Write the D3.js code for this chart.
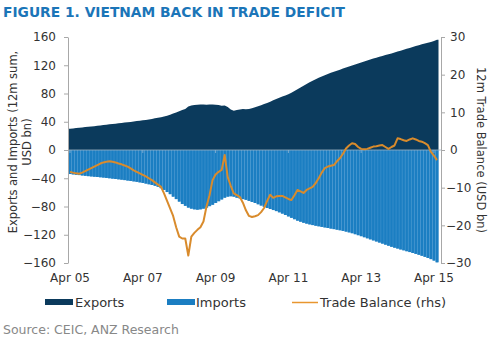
<!DOCTYPE html>
<html><head><meta charset="utf-8">
<script src="https://cdn.jsdelivr.net/npm/d3@7"></script>
<style>body{margin:0;background:#fff}svg{display:block}text{font-family:"DejaVu Sans",Verdana,sans-serif}</style>
</head><body><svg id="c" width="500" height="338"></svg>
<script>
const startMonth = "2005-04";
const exportsData = [
30.0,30.5,31.0,31.4,31.9,32.4,32.9,33.3,33.8,34.3,34.8,35.3,
35.8,36.3,36.8,37.3,37.8,38.3,38.9,39.4,39.8,40.3,40.9,41.5,
42.0,42.6,43.3,44.0,44.8,45.6,46.5,47.4,48.6,50.0,51.6,53.2,
54.8,56.5,58.0,61.5,63.0,63.8,64.2,64.5,64.3,64.2,64.6,64.4,
64.0,63.8,62.5,63.0,61.0,57.5,55.5,56.5,57.5,58.0,57.8,58.2,
59.0,60.5,62.0,63.5,65.0,66.6,68.4,70.3,72.2,74.0,75.6,77.2,
79.0,81.2,83.5,86.0,88.5,91.0,93.5,96.0,98.2,100.3,102.3,104.2,
106.0,107.7,109.3,110.8,112.3,113.8,115.3,116.8,118.3,119.8,121.2,122.6,
124.0,125.4,126.8,128.1,129.4,130.7,132.0,133.2,134.4,135.6,136.8,138.0,
139.3,140.6,141.9,143.2,144.5,145.8,147.1,148.4,149.7,150.9,152.0,153.0,
154.2,156.0];
const importsData = [
-34.0,-34.5,-35.0,-35.5,-36.0,-36.5,-37.0,-37.4,-37.8,-38.2,-38.6,-39.0,
-39.5,-40.0,-40.5,-41.0,-41.5,-42.0,-42.6,-43.2,-43.8,-44.4,-45.0,-45.8,
-46.6,-47.5,-48.5,-49.5,-50.6,-52.0,-54.0,-56.5,-59.5,-62.5,-66.0,-69.5,
-73.0,-76.5,-79.0,-81.5,-83.0,-84.0,-84.5,-84.0,-83.0,-81.5,-79.5,-77.5,
-75.0,-72.5,-70.0,-67.5,-66.0,-65.5,-66.0,-67.5,-68.5,-69.5,-70.5,-72.0,
-73.5,-75.0,-76.8,-78.6,-80.4,-82.0,-83.5,-85.0,-86.5,-88.2,-90.0,-92.0,
-94.0,-96.0,-98.0,-100.0,-101.5,-103.0,-104.2,-105.3,-106.3,-107.2,-108.0,-108.8,
-109.6,-110.4,-111.2,-112.0,-112.8,-113.6,-114.5,-115.5,-116.6,-117.8,-119.2,-120.6,
-122.0,-123.5,-125.0,-126.5,-128.0,-129.5,-131.0,-132.5,-134.0,-135.5,-137.0,-138.3,
-139.5,-140.8,-142.0,-143.3,-144.5,-145.8,-147.0,-148.3,-149.7,-151.2,-152.8,-154.5,
-156.5,-159.0];
const balanceData = [
-5.8,-6.0,-6.2,-6.3,-6.0,-5.6,-5.2,-4.8,-4.4,-4.0,-3.6,-3.3,
-3.1,-3.0,-3.1,-3.3,-3.6,-3.8,-4.1,-4.4,-4.9,-5.4,-5.8,-6.2,
-6.6,-7.0,-7.5,-8.0,-8.6,-9.2,-9.8,-11.5,-13.5,-15.5,-17.5,-20.5,
-23.0,-23.5,-23.5,-28.0,-23.0,-22.0,-21.2,-20.5,-19.0,-15.0,-12.0,-8.0,
-6.5,-5.8,-5.3,-1.3,-7.2,-9.5,-11.5,-12.0,-12.5,-14.0,-16.0,-17.5,
-17.8,-17.6,-17.3,-16.5,-15.4,-13.5,-11.9,-12.7,-12.3,-12.2,-12.2,-12.6,
-13.0,-13.3,-12.0,-10.6,-11.0,-11.4,-10.6,-10.2,-9.8,-8.8,-7.5,-6.0,
-4.8,-4.4,-4.2,-4.0,-3.0,-2.2,-1.0,0.4,1.2,1.8,1.6,0.8,
0.3,0.2,0.3,0.6,0.9,1.0,1.2,1.3,0.8,0.3,0.8,1.2,
3.1,2.9,2.6,2.4,2.8,3.1,2.8,2.4,2.2,1.8,1.3,-0.5,
-1.5,-2.7];
const leftTicks = [160,120,80,40,0,-40,-80,-120,-160];
const rightTicks = [30,20,10,0,-10,-20,-30];
const xTickLabels = ["Apr 05","Apr 07","Apr 09","Apr 11","Apr 13","Apr 15"];
const xTickIndex = [0,24,48,72,96,120];
const seriesNames = ["Exports","Imports","Trade Balance (rhs)"];

const C = {exp:"#0b3a5c", imp:"#1b7ec2", impLine:"#4596d0", bal:"#d98b2c", axis:"#a8a8a8", text:"#333"};
const svg = d3.select("#c");
const L = 68, R = 441, T = 37, B = 263;
const n = exportsData.length;
const idx = d3.range(n);
const x = d3.scaleBand().domain(idx).range([L + 0.5, 438.5]).padding(0);
const yL = d3.scaleLinear().domain([-160,160]).range([B,T]);
const yR = d3.scaleLinear().domain([-30,30]).range([B,T]);
const step = x.step();

// imports background (for light separator lines)
svg.append("g").selectAll("rect").data(idx).join("rect")
  .attr("x", i => x(i)).attr("width", step + 0.2)
  .attr("y", yL(0)).attr("height", i => yL(importsData[i]) - yL(0))
  .attr("fill", C.impLine);
svg.append("g").selectAll("rect").data(idx).join("rect")
  .attr("x", i => x(i) + 0.3).attr("width", step - 0.6)
  .attr("y", yL(0)).attr("height", i => yL(importsData[i]) - yL(0))
  .attr("fill", C.imp);
// exports as a continuous area through bar centres, extended to the band edges
const expArea = d3.area()
  .x(d => d.x).y0(yL(0)).y1(d => yL(d.v));
const expPts = [{x: x(0), v: exportsData[0]}]
  .concat(idx.map(i => ({x: x(i) + step/2, v: exportsData[i]})))
  .concat([{x: x(n-1) + step, v: exportsData[n-1]}]);
svg.append("path").datum(expPts).attr("d", expArea).attr("fill", C.exp);

// zero line & x ticks
svg.append("line").attr("x1", L).attr("x2", R).attr("y1", yL(0)).attr("y2", yL(0))
  .attr("stroke", "#9fb3c4").attr("stroke-width", 0.8);
svg.append("g").selectAll("line").data(xTickIndex).join("line")
  .attr("x1", i => x(i) + step/2).attr("x2", i => x(i) + step/2)
  .attr("y1", yL(0)).attr("y2", yL(0) + 3).attr("stroke", "#8fb6d6").attr("stroke-width", 0.8);

// balance line
svg.append("path").datum(idx)
  .attr("d", d3.line().x(i => x(i) + step/2).y(i => yR(balanceData[i])))
  .attr("fill", "none").attr("stroke", C.bal).attr("stroke-width", 2).attr("stroke-linejoin", "round");

// axes
const gl = svg.append("g").attr("transform", `translate(${L},0)`)
  .call(d3.axisLeft(yL).tickValues(leftTicks).tickSize(4).tickSizeOuter(0).tickPadding(8));
const gr = svg.append("g").attr("transform", `translate(${R},0)`)
  .call(d3.axisRight(yR).tickValues(rightTicks).tickSize(4).tickSizeOuter(0).tickPadding(3));
[gl, gr].forEach(g => {
  g.select(".domain").attr("stroke", C.axis);
  g.selectAll(".tick line").attr("stroke", C.axis);
  g.selectAll("text").attr("fill", C.text).attr("font-size", 12).attr("font-family", '"DejaVu Sans",Verdana,sans-serif');
});
gr.selectAll("text").attr("dx", d => d < 0 ? -2 : 2);

svg.append("g").selectAll("text").data(xTickIndex).join("text")
  .attr("x", i => x(i) + step/2).attr("y", 282).attr("text-anchor", "middle")
  .attr("font-size", 12).attr("fill", C.text).text((d, k) => xTickLabels[k]);

// axis titles
const lt = svg.append("text").attr("transform", "translate(17,142) rotate(-90)")
  .attr("text-anchor", "middle").attr("font-size", 11.5).attr("fill", C.text);
lt.append("tspan").attr("x", 0).attr("dy", 0).text("Exports and Imports (12m sum,");
lt.append("tspan").attr("x", 0).attr("dy", 14).text("USD bn)");
svg.append("text").attr("transform", "translate(477,150) rotate(90)")
  .attr("text-anchor", "middle").attr("font-size", 11.5).attr("fill", C.text)
  .text("12m Trade Balance (USD bn)");

// title
svg.append("text").attr("x", 3).attr("y", 17).attr("font-size", 13.5).attr("font-weight", "bold")
  .attr("fill", "#1b75b8").attr("textLength", 342).attr("lengthAdjust", "spacingAndGlyphs")
  .text("FIGURE 1. VIETNAM BACK IN TRADE DEFICIT");

// legend
const lg = svg.append("g");
lg.append("rect").attr("x", 45).attr("y", 299).attr("width", 28).attr("height", 6).attr("fill", C.exp);
lg.append("text").attr("x", 75).attr("y", 307).attr("font-size", 13).attr("fill", C.text).text(seriesNames[0]);
lg.append("rect").attr("x", 167).attr("y", 299).attr("width", 28).attr("height", 6).attr("fill", C.imp);
lg.append("text").attr("x", 196).attr("y", 307).attr("font-size", 13).attr("fill", C.text).text(seriesNames[1]);
lg.append("line").attr("x1", 292).attr("x2", 318).attr("y1", 302.5).attr("y2", 302.5).attr("stroke", "#e8962f").attr("stroke-width", 1.5);
lg.append("text").attr("x", 320).attr("y", 307).attr("font-size", 13).attr("fill", C.text).text(seriesNames[2]);

svg.append("text").attr("x", 3).attr("y", 334).attr("font-size", 12.5).attr("fill", "#888")
  .text("Source: CEIC, ANZ Research");
</script></body></html>
